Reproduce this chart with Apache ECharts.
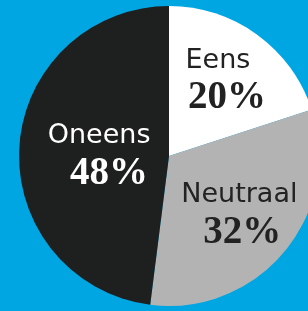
<!DOCTYPE html>
<html>
<head>
<meta charset="utf-8">
<script src="https://cdn.jsdelivr.net/npm/echarts@6/dist/echarts.min.js"></script>
<style>
html,body{margin:0;padding:0;background:#00a6e2;}
#c{width:308px;height:311px;}
</style>
</head>
<body>
<div id="c"></div>
<script>
// Data
const categories = ['Eens', 'Neutraal', 'Oneens'];
const values = [20, 32, 48];
const sliceColors = ['#ffffff', '#b3b3b3', '#1e1f1f'];
const textColors = ['#222222', '#222222', '#ffffff'];

// Layout
const CENTER = [169, 156];
const RADIUS = 150;
const labelRadiusFactor = [0.58, 0.615, 0.42];
const labelAngleTweak = [0, 1, -6];      // degrees
const nameShift = [-4, -2, -4];          // px, horizontal
const pctShift = [5, 1, 6];              // px, horizontal

const total = values.reduce((a, b) => a + b, 0);
const midAngles = [];
let acc = 0;
values.forEach(v => { midAngles.push((acc + v / 2) / total * 2 * Math.PI); acc += v; });

function richFor(i) {
  const a = nameShift[i], b = pctShift[i];
  return {
    n: {color: textColors[i], fontFamily: 'DejaVu Sans', fontSize: 27, lineHeight: 30, align: 'center',
        padding: a < 0 ? [0, -2 * a, 0, 0] : [0, 0, 0, 2 * a]},
    p: {color: textColors[i], fontFamily: 'Liberation Serif', fontWeight: 'bold', fontSize: 39, lineHeight: 45, align: 'center',
        padding: b < 0 ? [0, -2 * b, 0, 0] : [0, 0, 0, 2 * b]}
  };
}

const chart = echarts.init(document.getElementById('c'), null, {renderer: 'canvas'});
chart.setOption({
  backgroundColor: '#00a6e2',
  animation: false,
  series: [{
    type: 'pie',
    center: CENTER,
    radius: [0, RADIUS],
    startAngle: 90,
    clockwise: true,
    silent: true,
    avoidLabelOverlap: false,
    itemStyle: {borderWidth: 0},
    label: {
      show: true,
      position: 'inside',
      formatter: p => '{n|' + p.name + '}\n{p|' + p.value + '%}'
    },
    labelLayout: function (params) {
      const i = params.dataIndex;
      const m = midAngles[i];
      const t = m + labelAngleTweak[i] * Math.PI / 180;
      const r = labelRadiusFactor[i] * RADIUS;
      const r0 = 0.5 * RADIUS;
      return {
        dx: r * Math.sin(t) - r0 * Math.sin(m),
        dy: -r * Math.cos(t) + r0 * Math.cos(m)
      };
    },
    data: categories.map((c, i) => ({
      name: c,
      value: values[i],
      itemStyle: {color: sliceColors[i]},
      label: {color: textColors[i], rich: richFor(i)}
    }))
  }]
});
</script>
</body>
</html>
